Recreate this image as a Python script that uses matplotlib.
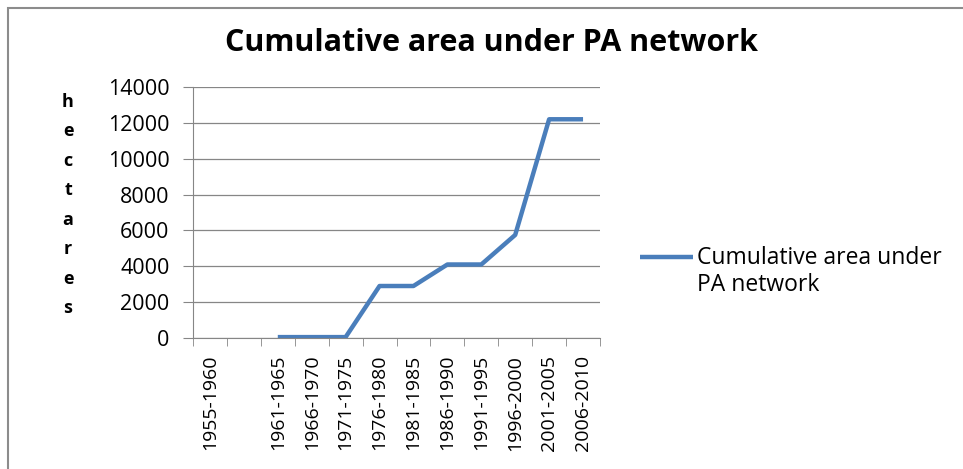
import numpy as np
import matplotlib.pyplot as plt
from matplotlib.lines import Line2D
from matplotlib.patches import Rectangle

periods = ["1955-1960", "", "1961-1965", "1966-1970", "1971-1975", "1976-1980",
           "1981-1985", "1986-1990", "1991-1995", "1996-2000", "2001-2005", "2006-2010"]
area_ha = [np.nan, np.nan, 50, 50, 50, 2900, 2900, 4100, 4100, 5750, 12200, 12200]
y_ticks = [0, 2000, 4000, 6000, 8000, 10000, 12000, 14000]
series_name = "Cumulative area under\nPA network"

plt.rcParams["font.family"] = ["Open Sans", "DejaVu Sans"]

W, H = 963, 469
fig = plt.figure(figsize=(W / 100, H / 100), dpi=100)
ax = fig.add_axes([193 / W, 1 - 338 / H, (600 - 193) / W, (338 - 87) / H])

x = np.arange(len(periods))
line_color = "#4a7ebb"
ax.plot(x, area_ha, color=line_color, lw=3.2, solid_capstyle="butt",
        label=series_name)

ax.set_xlim(-0.5, len(periods) - 0.5)
ax.set_ylim(0, 14000)
ax.set_yticks(y_ticks)
ax.set_yticklabels([str(v) for v in y_ticks], fontsize=15.5)
ax.set_xticks(x)
ax.set_xticklabels(periods, rotation=90, fontsize=14)
ax.set_xticks(np.arange(len(periods) + 1) - 0.5, minor=True)
ax.tick_params(axis="x", which="major", length=0, pad=12)
ax.tick_params(axis="x", which="minor", length=6, color="#868686")
ax.tick_params(axis="y", length=7, color="#868686", pad=10)
ax.grid(axis="y", color="#868686", lw=0.9)
ax.set_axisbelow(True)
for side in ["top", "right"]:
    ax.spines[side].set_visible(False)
for side in ["left", "bottom"]:
    ax.spines[side].set_color("#868686")

fig.text(491 / W, 1 - 43 / H, "Cumulative area under PA network",
         ha="center", va="center", fontsize=22, fontweight="bold")

fig.text(68 / W, 1 - 205 / H, "\n".join("hectares"), ha="center", va="center",
         fontsize=13, fontweight="bold", linespacing=1.82)

# legend drawn by hand: Excel puts the key next to the first line of the label
fig.add_artist(Line2D([640 / W, 693 / W], [1 - 257 / H] * 2,
                      transform=fig.transFigure, color=line_color, lw=3.2,
                      solid_capstyle="butt"))
fig.text(697 / W, 1 - 246 / H, series_name, ha="left", va="top",
         fontsize=16.5, linespacing=1.15)

fig.patches.append(Rectangle((8 / W, -0.05), 1.1, 1 - 8 / H + 0.05,
                             transform=fig.transFigure, fill=False,
                             edgecolor="#8c8c8c", lw=1.5))

fig.savefig("out.png", dpi=100)
